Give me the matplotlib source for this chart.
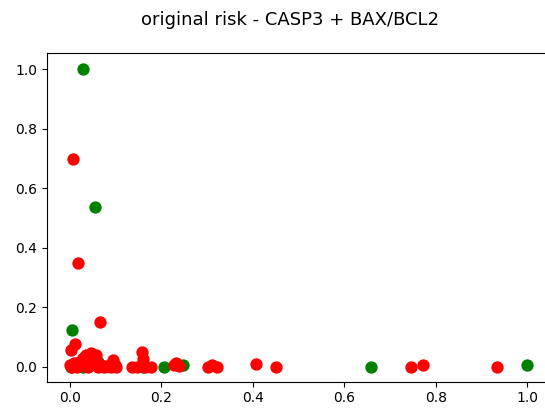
import matplotlib
matplotlib.use("Agg")
import matplotlib.pyplot as plt

# risk scores
red_x = [0.007, 0.017, 0.066, 0.002, 0.012, 0.000, 0.004, 0.010, 0.015, 0.020,
         0.025, 0.030, 0.035, 0.040, 0.046, 0.046, 0.052, 0.057, 0.062, 0.068,
         0.075, 0.082, 0.090, 0.094, 0.098, 0.102, 0.136, 0.146, 0.159, 0.160,
         0.165, 0.178, 0.228, 0.232, 0.238, 0.302, 0.312, 0.322, 0.407, 0.451,
         0.745, 0.772, 0.933]
red_y = [0.697, 0.347, 0.151, 0.058, 0.075, 0.005, 0.000, 0.012, 0.000, 0.017,
         0.005, 0.028, 0.039, 0.000, 0.045, 0.008, 0.020, 0.039, 0.000, 0.005,
         0.000, 0.003, 0.000, 0.022, 0.005, 0.000, 0.000, 0.000, 0.050, 0.025,
         0.000, 0.000, 0.005, 0.013, 0.003, 0.000, 0.005, 0.000, 0.011, 0.000,
         0.000, 0.006, 0.000]

green_x = [0.030, 0.056, 0.006, 0.002, 0.028, 0.061, 0.160, 0.207, 0.247, 0.659, 1.000]
green_y = [1.000, 0.535, 0.125, 0.000, 0.000, 0.015, 0.000, 0.000, 0.006, 0.000, 0.006]

title = "original risk - CASP3 + BAX/BCL2"

fig = plt.figure(figsize=(5.45, 4.08), dpi=100)
# the reference is cropped on the right, so the right spine is not visible
ax = fig.add_axes([0.086, 0.0645, 0.93, 0.805])
ax.spines["right"].set_visible(False)

ax.scatter(green_x, green_y, c="green", s=62)
ax.scatter(red_x, red_y, c="red", s=62)

ax.set_xlim(-0.05, 1.058)
ax.set_ylim(-0.05, 1.053)
ax.set_xticks([0.0, 0.2, 0.4, 0.6, 0.8, 1.0])
ax.set_yticks([0.0, 0.2, 0.4, 0.6, 0.8, 1.0])
ax.tick_params(labelsize=10)

fig.text(0.532, 0.95, title, ha="center", va="center", fontsize=13)

fig.savefig("out.png", dpi=100)
